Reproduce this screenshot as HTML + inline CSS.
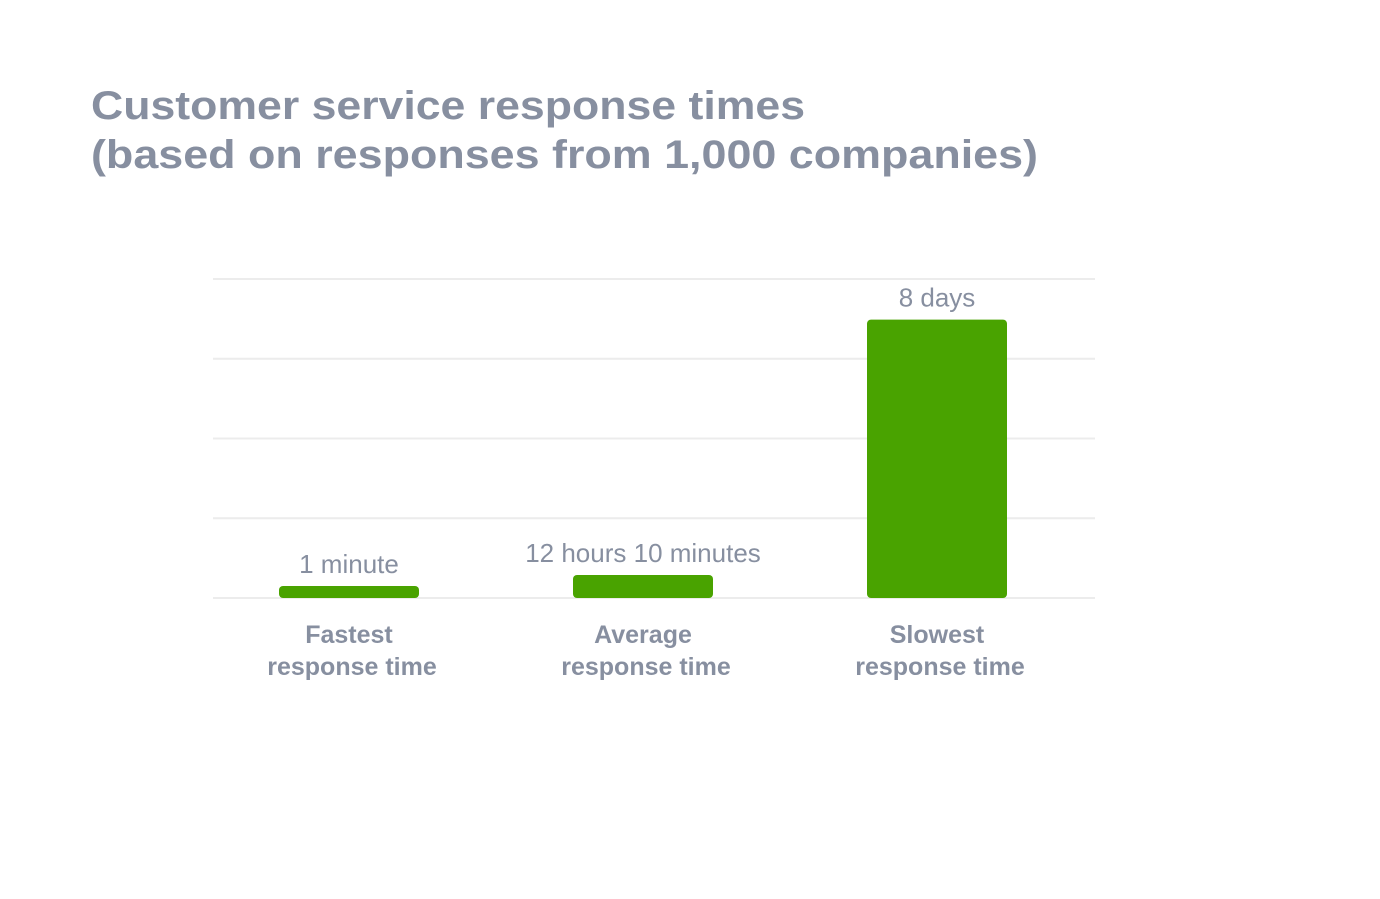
<!DOCTYPE html>
<html><head><meta charset="utf-8"><style>
html,body{margin:0;padding:0;background:#fff;}
svg{display:block;font-family:"Liberation Sans",sans-serif;}
</style></head><body>
<svg id="chart" width="1380" height="899" viewBox="0 0 1380 899" xmlns="http://www.w3.org/2000/svg">
<g fill="#878fa0" font-weight="bold" font-size="40">
<text x="91" y="119" textLength="714" lengthAdjust="spacingAndGlyphs">Customer service response times</text>
<text x="91" y="168" textLength="947" lengthAdjust="spacingAndGlyphs">(based on responses from 1,000 companies)</text>
</g>
<g id="grid"></g>
<g id="bars"></g>
<g id="labels"></g>
</svg>
<script>
const categories = ["Fastest|response time", "Average|response time", "Slowest|response time"];
const values = [8.3, 15.9, 192];
const valueLabels = ["1 minute", "12 hours 10 minutes", "8 days"];
const gridTicks = [0, 55, 110, 165, 220];

const NS = "http://www.w3.org/2000/svg";
const plot = {x0: 213, x1: 1095, yBase: 598, yTop: 279};
const yMax = 220;
function y(v){ return plot.yBase - v / yMax * (plot.yBase - plot.yTop); }
const bandW = (plot.x1 - plot.x0) / categories.length;
function xc(i){ return plot.x0 + bandW * (i + 0.5) - 11; }
const barW = 140;

const grid = document.getElementById('grid');
gridTicks.forEach(t => {
  const l = document.createElementNS(NS, 'line');
  
  
  l.setAttribute('x1', plot.x0); l.setAttribute('x2', plot.x1);
  l.setAttribute('y1', y(t)); l.setAttribute('y2', y(t));
  l.setAttribute('stroke', '#ececec'); l.setAttribute('stroke-width', '2');
  grid.appendChild(l);
});

const bars = document.getElementById('bars');
const labels = document.getElementById('labels');
values.forEach((v, i) => {
  const cx = xc(i);
  const r = document.createElementNS(NS, 'rect');
  
  
  r.setAttribute('x', cx - barW / 2); r.setAttribute('width', barW);
  r.setAttribute('y', y(v)); r.setAttribute('height', plot.yBase - y(v));
  r.setAttribute('rx', 4); r.setAttribute('fill', '#49a300');
  bars.appendChild(r);

  const t = document.createElementNS(NS, 'text');
  
  
  t.setAttribute('x', cx); t.setAttribute('y', y(v) - 13);
  t.setAttribute('text-anchor', 'middle'); t.setAttribute('font-size', '26');
  t.setAttribute('fill', '#878fa0');
  t.textContent = valueLabels[i];
  labels.appendChild(t);

  categories[i].split('|').forEach((line, k) => {
    const c = document.createElementNS(NS, 'text');
    
    
    c.setAttribute('x', cx + (k === 1 ? 3 : 0)); c.setAttribute('y', 643 + k * 32);
    c.setAttribute('text-anchor', 'middle'); c.setAttribute('font-size', '25');
    c.setAttribute('font-weight', 'bold'); c.setAttribute('fill', '#878fa0');
    c.textContent = line;
    labels.appendChild(c);
  });
});
</script>
</body></html>
